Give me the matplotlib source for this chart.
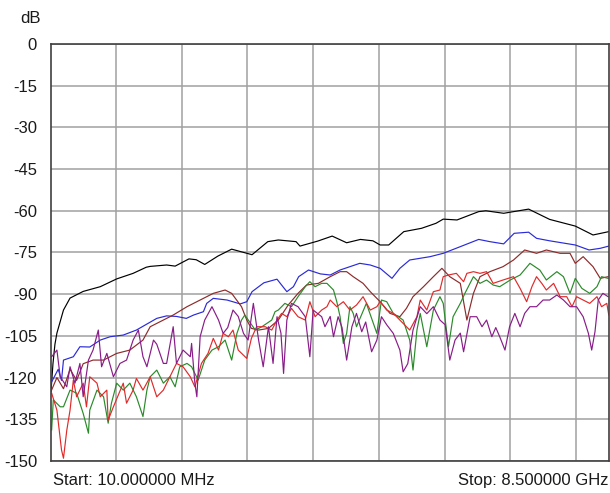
import numpy as np
import matplotlib
matplotlib.use("Agg")
import matplotlib.pyplot as plt

plt.rcParams['font.family'] = ['Liberation Sans', 'DejaVu Sans']

# frequency (GHz) / level (dB)
black_f = [0.01, 0.04, 0.07, 0.10, 0.20, 0.30, 0.50, 0.76, 1.01, 1.26, 1.46, 1.52, 1.77, 1.90, 2.11, 2.22,
           2.35, 2.55, 2.76, 3.07, 3.31, 3.47, 3.74, 3.80, 4.07, 4.29, 4.51, 4.72, 4.91, 5.02, 5.15, 5.38,
           5.65, 5.87, 5.98, 6.19, 6.52, 6.63, 6.90, 7.28, 7.60, 7.99, 8.26, 8.50]
black_db = [-125, -115, -108, -104, -95.7, -91.4, -89, -87.3, -84.5, -82.5, -80.3, -80, -79.5, -79.9, -77.3, -77.6,
            -79.3, -76.3, -73.8, -75.8, -71.1, -70.5, -71.1, -72.7, -70.9, -69.1, -71.5, -70.3, -70.8, -72.3, -72.3, -67.5,
            -66.3, -64.5, -63, -63.3, -60.3, -60, -60.9, -59.4, -63.1, -65.5, -68.7, -67.5]

blue_f = [0.01, 0.12, 0.17, 0.20, 0.35, 0.45, 0.60, 0.76, 0.91, 1.11, 1.31, 1.62, 1.77, 1.92, 2.07, 2.18,
          2.33, 2.38, 2.48, 2.69, 2.89, 2.99, 3.07, 3.25, 3.45, 3.60, 3.70, 3.78, 3.93, 4.11, 4.26, 4.41,
          4.56, 4.71, 4.87, 5.02, 5.20, 5.32, 5.47, 5.78, 5.98, 6.24, 6.52, 6.69, 6.90, 7.06, 7.28, 7.40,
          7.60, 7.99, 8.20, 8.37, 8.50]
blue_db = [-122, -117, -121, -113.7, -112.5, -108.9, -109, -106.5, -105.3, -104.7, -102.9, -98.7, -97.8, -98, -98.7, -97.5,
           -96.3, -93.3, -91.5, -92.1, -93.5, -92.7, -89.1, -85.9, -84.6, -89.1, -87.3, -83.7, -81.3, -82.7, -83.1, -81.3,
           -80.1, -78.9, -79.5, -80.7, -84.3, -80.7, -77.7, -76.5, -75.3, -72.9, -70.3, -71.1, -71.9, -68.1, -67.7, -69.9,
           -70.8, -72.3, -74.1, -73.5, -72.7]

brown_f = [0.01, 0.10, 0.20, 0.30, 0.40, 0.50, 0.65, 0.81, 1.01, 1.21, 1.41, 1.52, 1.72, 1.87, 2.08, 2.28,
           2.48, 2.66, 2.76, 2.91, 2.99, 3.06, 3.17, 3.32, 3.47, 3.62, 3.77, 3.90, 4.08, 4.26, 4.41, 4.51,
           4.61, 4.76, 4.87, 5.02, 5.17, 5.32, 5.42, 5.52, 5.68, 5.83, 5.96, 6.08, 6.24, 6.34, 6.44, 6.54,
           6.69, 6.89, 7.05, 7.22, 7.40, 7.55, 7.76, 7.91, 7.99, 8.11, 8.26, 8.37, 8.49]
brown_db = [-125, -120, -124, -117, -121, -115, -113.7, -113.7, -111.3, -110.1, -106.5, -101.7, -99.3, -97.5, -94.5, -92.1,
            -89.7, -88.5, -89.7, -94.5, -99.3, -102.3, -102.9, -102.3, -99.3, -93.9, -89.7, -86.7, -86.1, -83.7, -81.9, -81.9,
            -83.7, -86.1, -89.1, -92.7, -96.9, -98.1, -95.1, -90.9, -87.3, -83.7, -80.7, -83.7, -86.1, -99.3, -89.7, -83.7,
            -81.9, -80.1, -77.7, -74.1, -75.3, -74.1, -75.3, -75.3, -78.9, -76.5, -80.1, -84.3, -83.7]

red_f = [0.02, 0.10, 0.17, 0.20, 0.25, 0.30, 0.35, 0.40, 0.50, 0.55, 0.60, 0.71, 0.76, 0.86, 0.88, 0.96,
         1.11, 1.16, 1.26, 1.31, 1.41, 1.52, 1.62, 1.72, 1.82, 1.92, 2.02, 2.13, 2.20, 2.30, 2.40, 2.48,
         2.56, 2.63, 2.71, 2.78, 2.86, 2.99, 3.06, 3.14, 3.27, 3.37, 3.45, 3.52, 3.60, 3.67, 3.77, 3.88,
         3.95, 4.03, 4.13, 4.21, 4.26, 4.36, 4.46, 4.56, 4.66, 4.76, 4.87, 4.97, 5.02, 5.12, 5.22, 5.32,
         5.47, 5.58, 5.63, 5.73, 5.83, 5.93, 5.98, 6.06, 6.18, 6.29, 6.34, 6.44, 6.54, 6.64, 6.74, 6.89,
         7.05, 7.15, 7.25, 7.33, 7.40, 7.48, 7.55, 7.66, 7.76, 7.86, 7.94, 8.01, 8.11, 8.21, 8.32, 8.39,
         8.47, 8.50]
red_db = [-125.6, -131.7, -146, -149, -139, -131.7, -120.9, -126.9, -122, -130.5, -119.7, -122, -126.9, -124.5, -135.3, -130.5,
          -122, -129.2, -124.5, -120.3, -124.5, -119.7, -126.9, -124.5, -119.7, -114.9, -116.1, -119.7, -123.3, -114.9, -111.3, -105.9,
          -110.1, -104.1, -105.3, -102.9, -110.1, -113.1, -105.9, -101.7, -101.7, -102.9, -99.3, -96.9, -98.1, -95.1, -98.1, -99.3,
          -92.7, -98.1, -95.7, -94.5, -92.1, -94.5, -92.7, -95.7, -93.9, -90.9, -95.7, -94.5, -92.7, -95.7, -96.9, -99.3,
          -102.9, -98.1, -92.1, -95.7, -89.1, -88.5, -83.7, -83.1, -82.5, -85.5, -82.5, -81.9, -82.5, -81.9, -86.1, -84.9,
          -83.7, -87.9, -92.7, -87.3, -83.7, -86.1, -88.5, -86.1, -90.9, -90.9, -94.5, -90.9, -92.1, -93.3, -90.9, -94.5,
          -93.3, -97.5]

green_f = [0.02, 0.045, 0.15, 0.20, 0.30, 0.40, 0.50, 0.58, 0.60, 0.71, 0.81, 0.88, 0.93, 1.01, 1.11, 1.21,
           1.31, 1.41, 1.47, 1.52, 1.62, 1.72, 1.82, 1.90, 1.97, 2.08, 2.15, 2.25, 2.35, 2.46, 2.56, 2.66,
           2.76, 2.84, 2.91, 2.96, 3.12, 3.22, 3.37, 3.42, 3.47, 3.57, 3.67, 3.77, 3.88, 3.95, 4.03, 4.13,
           4.21, 4.31, 4.36, 4.41, 4.46, 4.51, 4.56, 4.61, 4.66, 4.81, 4.97, 5.04, 5.12, 5.22, 5.37, 5.47,
           5.52, 5.58, 5.63, 5.73, 5.83, 5.93, 5.98, 6.06, 6.13, 6.24, 6.31, 6.44, 6.54, 6.64, 6.74, 6.84,
           7.00, 7.15, 7.30, 7.45, 7.55, 7.71, 7.81, 7.91, 7.99, 8.09, 8.21, 8.32, 8.39, 8.49]
green_db = [-138.8, -128, -130.5, -130.5, -124.5, -125.6, -132.9, -140, -131.7, -124.5, -126.9, -136.4, -129.2, -122, -124.5, -122,
            -126.9, -134, -124.5, -119.7, -117.3, -122, -119.7, -123.3, -116.1, -114.9, -116.1, -120.9, -113.7, -110.1, -108.9, -106.5,
            -113.7, -104.1, -99.3, -97.5, -102.9, -101.7, -99.3, -96.3, -95.7, -93.3, -94.5, -90.9, -87.3, -85.5, -87.3, -86.1,
            -86.1, -88.5, -92.7, -98.1, -107.7, -104.1, -94.5, -96.9, -101.7, -93.3, -104.1, -92.1, -92.7, -96.9, -99.3, -106.5,
            -117.3, -102.9, -96.9, -108.9, -95.7, -90.9, -93.3, -108.9, -98.1, -93.3, -89.7, -83.7, -86.1, -84.9, -86.7, -87.3,
            -84.9, -83.1, -78.9, -81.3, -84.9, -81.9, -83.7, -89.7, -84.3, -87.9, -89.7, -87.3, -83.7, -84.3]

purple_f = [0.02, 0.10, 0.15, 0.25, 0.30, 0.375, 0.45, 0.50, 0.58, 0.65, 0.73, 0.78, 0.86, 0.96, 1.06, 1.16,
            1.21, 1.26, 1.34, 1.41, 1.47, 1.57, 1.62, 1.72, 1.77, 1.87, 1.92, 2.02, 2.13, 2.15, 2.20, 2.23,
            2.28, 2.35, 2.46, 2.56, 2.63, 2.70, 2.78, 2.86, 2.94, 3.01, 3.09, 3.17, 3.24, 3.32, 3.39, 3.45,
            3.51, 3.55, 3.60, 3.67, 3.77, 3.88, 3.95, 4.00, 4.13, 4.18, 4.26, 4.31, 4.38, 4.44, 4.51, 4.59,
            4.66, 4.74, 4.80, 4.89, 4.97, 5.04, 5.12, 5.22, 5.32, 5.37, 5.44, 5.52, 5.63, 5.73, 5.83, 5.93,
            6.01, 6.08, 6.16, 6.24, 6.29, 6.39, 6.49, 6.57, 6.64, 6.72, 6.78, 6.84, 6.92, 6.99, 7.07, 7.15,
            7.22, 7.30, 7.40, 7.50, 7.60, 7.71, 7.81, 7.91, 8.01, 8.11, 8.19, 8.24, 8.29, 8.34, 8.41, 8.49]
purple_db = [-112.5, -110.1, -119.7, -123.3, -116.1, -122, -114.9, -126.9, -113.7, -110.1, -102.9, -116.1, -111.3, -119.7, -114.9, -113.7,
             -110.1, -106.5, -102.9, -112.5, -116.1, -106.5, -108, -114.9, -114.9, -101.7, -114.9, -110.1, -112.5, -107.7, -122, -126.9,
             -105.3, -99.3, -94.5, -99.3, -104.1, -102, -95.7, -98, -104.1, -106.5, -93.3, -106.5, -116.1, -101.7, -114.9, -98.1,
             -104, -118.5, -99.3, -93.3, -94.5, -98.1, -112.5, -95.7, -98.1, -101.7, -98, -105.3, -98.1, -102, -113.7, -101.7,
             -96.9, -103.5, -100, -110.7, -106.5, -98.1, -101, -104.1, -110.1, -117.9, -115, -102.9, -94.5, -97, -94.5, -99.3,
             -101, -113.7, -106.5, -104, -110.7, -98.1, -98.1, -101.7, -99.3, -105.3, -102, -105.3, -110.1, -101.7, -96.9, -101.7,
             -96.9, -94.5, -94.5, -92.1, -92.1, -90.3, -92.1, -94.5, -94.5, -98.1, -104.1, -110.1, -103.5, -92.1, -89.7, -90.9]

y_ticks = [0, -15, -30, -45, -60, -75, -90, -105, -120, -135, -150]
x_grid = [1, 2, 3, 4, 5, 6, 7, 8]
f_start, f_stop = 0.01, 8.5

fig = plt.figure(figsize=(6.1, 4.93), dpi=100)
ax = fig.add_axes([0.0836, 0.0649, 0.9144, 0.8459])

traces = [
    (black_f, black_db, '#000000'),
    (blue_f, blue_db, '#2a2ad8'),
    (brown_f, brown_db, '#8e2a2a'),
    (green_f, green_db, '#2a8a2a'),
    (red_f, red_db, '#e02a2a'),
    (purple_f, purple_db, '#881c88'),
]
for f, db, c in traces:
    ax.plot(f, db, color=c, lw=0.85)

ax.set_xlim(f_start, f_stop)
ax.set_ylim(-150, 0)
ax.set_yticks(y_ticks)
ax.set_yticklabels([str(t) for t in y_ticks], fontsize=12, color='#1a1a1a')
ax.set_xticks(x_grid)
ax.set_xticklabels([])
ax.tick_params(axis='both', length=0, pad=10)
ax.grid(True, color='#a0a0a0', lw=1.1)
ax.set_axisbelow(True)
for s in ax.spines.values():
    s.set_color('#404040')
    s.set_linewidth(1.2)

fig.text(0.033, 0.963, 'dB', fontsize=12, color='#1a1a1a', va='center', ha='left')
fig.text(0.087, 0.026, 'Start: 10.000000 MHz', fontsize=12, color='#1a1a1a', va='center', ha='left')
fig.text(0.997, 0.026, 'Stop: 8.500000 GHz', fontsize=12, color='#1a1a1a', va='center', ha='right')

fig.savefig('out.png', dpi=100)
